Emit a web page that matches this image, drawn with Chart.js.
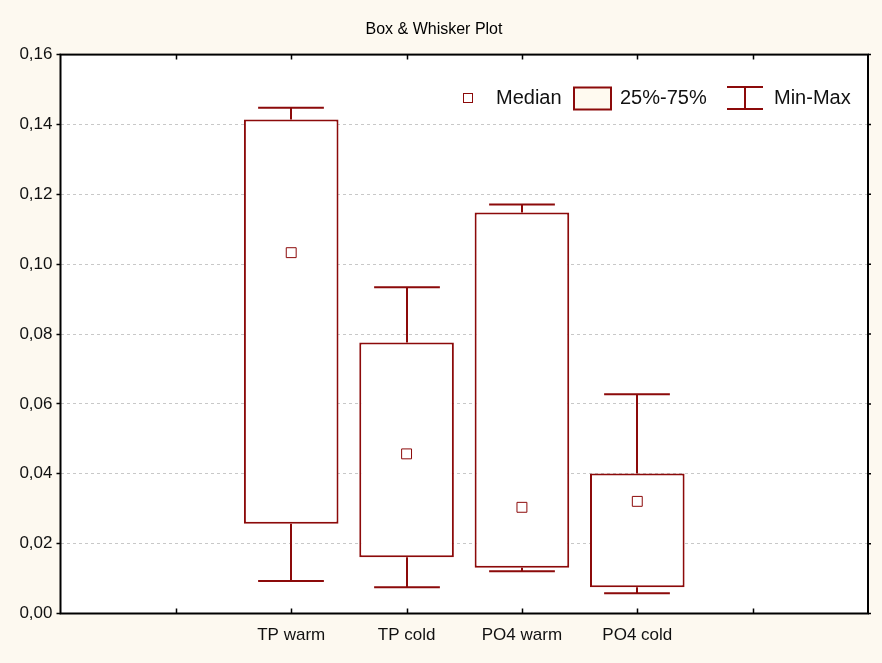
<!DOCTYPE html>
<html>
<head>
<meta charset="utf-8">
<script src="https://cdn.jsdelivr.net/npm/chart.js@4/dist/chart.umd.min.js"></script>
<style>
  html, body { margin: 0; padding: 0; background: #fdf9f0; }
  #wrap { width: 882px; height: 663px; }
</style>
</head>
<body>
<div id="wrap"><canvas id="c" width="882" height="663"></canvas></div>
<script>
// Box & whisker summary per group
const categories   = ['TP warm', 'TP cold', 'PO4 warm', 'PO4 cold'];
const minValues    = [0.0093, 0.0075, 0.0121, 0.0058];
const q1Values     = [0.0257, 0.0161, 0.0131, 0.0075];
const medianValues = [0.1033, 0.0457, 0.0304, 0.0321];
const q3Values     = [0.1414, 0.0776, 0.1148, 0.0401];
const maxValues    = [0.1448, 0.0934, 0.1171, 0.0628];
const yTickValues  = [0, 0.02, 0.04, 0.06, 0.08, 0.10, 0.12, 0.14, 0.16];
const legendLabels = ['Median', '25%-75%', 'Min-Max'];

// empty slots on either side of the groups along the x axis
const LEAD = 2, TRAIL = 2;
const pad = arr => [...Array(LEAD).fill(null), ...arr, ...Array(TRAIL).fill(null)];
const slotLabels = pad(categories).map(v => v === null ? '' : v);

const RED = '#8c0a0a';
const PAGE = '#fdf9f0';
const FONT = "'Liberation Sans', Arial, sans-serif";

const fmt = v => v.toFixed(2).replace('.', ',');

const framePlugin = {
  id: 'frame',
  beforeDraw(chart) {
    const { ctx, chartArea: a } = chart;
    ctx.save();
    ctx.fillStyle = PAGE;
    ctx.fillRect(0, 0, chart.width, chart.height);
    ctx.fillStyle = '#ffffff';
    ctx.fillRect(a.left, a.top, a.right - a.left, a.bottom - a.top);
    ctx.restore();
  },
  beforeDatasetsDraw(chart) {
    const { ctx, chartArea: a, scales: { x, y } } = chart;
    ctx.save();
    ctx.strokeStyle = '#000';
    ctx.lineWidth = 2;
    ctx.strokeRect(a.left, a.top, a.right - a.left, a.bottom - a.top);
    // inward tick marks on top and bottom edges
    ctx.beginPath();
    for (let i = 1; i < slotLabels.length - 1; i++) {
      const px = Math.round(x.getPixelForTick(i)) + 0.5;
      ctx.moveTo(px, a.bottom); ctx.lineTo(px, a.bottom - 5);
      ctx.moveTo(px, a.top); ctx.lineTo(px, a.top + 5);
    }
    // short outward marks on the right edge
    yTickValues.forEach(v => {
      const py = y.getPixelForValue(v);
      ctx.moveTo(a.right, py); ctx.lineTo(a.right + 3, py);
    });
    ctx.lineWidth = 1.5;
    ctx.stroke();
    ctx.restore();
  },
  afterDatasetsDraw(chart) {
    const { ctx, scales: { x, y } } = chart;
    const slot = x.getPixelForValue(1) - x.getPixelForValue(0);
    const half = slot * 0.285;
    ctx.save();
    ctx.strokeStyle = RED;
    ctx.lineWidth = 2;
    categories.forEach((c, i) => {
      const cx = Math.round(x.getPixelForValue(i + LEAD));
      const yMax = y.getPixelForValue(maxValues[i]);
      const yQ3 = y.getPixelForValue(q3Values[i]);
      const yQ1 = y.getPixelForValue(q1Values[i]);
      const yMin = y.getPixelForValue(minValues[i]);
      ctx.beginPath();
      ctx.moveTo(cx, yQ3); ctx.lineTo(cx, yMax);
      ctx.moveTo(cx - half, yMax); ctx.lineTo(cx + half, yMax);
      ctx.moveTo(cx, yQ1); ctx.lineTo(cx, yMin);
      ctx.moveTo(cx - half, yMin); ctx.lineTo(cx + half, yMin);
      ctx.stroke();
    });
    ctx.restore();
  },
  afterDraw(chart) {
    // legend row in the upper right of the plot
    const { ctx } = chart;
    const cy = 98;
    ctx.save();
    ctx.font = '20px ' + FONT;
    ctx.fillStyle = '#111';
    ctx.textBaseline = 'middle';
    ctx.textAlign = 'left';
    // median marker
    ctx.fillStyle = '#fff';
    ctx.fillRect(463.5, cy - 4.5, 9, 9);
    ctx.strokeStyle = RED;
    ctx.lineWidth = 1;
    ctx.strokeRect(463.5, cy - 4.5, 9, 9);
    ctx.fillStyle = '#111';
    ctx.fillText(legendLabels[0], 496, cy);
    // box marker
    ctx.fillStyle = '#fffaf0';
    ctx.fillRect(574, cy - 10.5, 37, 22);
    ctx.lineWidth = 2;
    ctx.strokeRect(574, cy - 10.5, 37, 22);
    ctx.fillStyle = '#111';
    ctx.fillText(legendLabels[1], 620, cy);
    // whisker marker
    ctx.beginPath();
    ctx.moveTo(727, cy - 11); ctx.lineTo(763, cy - 11);
    ctx.moveTo(727, cy + 11); ctx.lineTo(763, cy + 11);
    ctx.moveTo(745, cy - 11); ctx.lineTo(745, cy + 11);
    ctx.stroke();
    ctx.fillText(legendLabels[2], 774, cy);
    ctx.restore();
  }
};

new Chart(document.getElementById('c'), {
  type: 'bar',
  data: {
    labels: slotLabels,
    datasets: [
      {
        type: 'bar',
        label: legendLabels[1],
        data: pad(categories.map((c, i) => [q1Values[i], q3Values[i]])),
        backgroundColor: '#ffffff',
        borderColor: RED,
        borderWidth: 2,
        borderSkipped: false,
        barPercentage: 0.82,
        categoryPercentage: 1,
        order: 2
      },
      {
        type: 'line',
        label: legendLabels[0],
        data: pad(medianValues),
        showLine: false,
        pointStyle: 'rect',
        pointRadius: 7,
        pointBackgroundColor: '#ffffff',
        pointBorderColor: RED,
        pointBorderWidth: 1,
        order: 1
      }
    ]
  },
  options: {
    responsive: false,
    animation: false,
    devicePixelRatio: 1,
    layout: { padding: { left: 0, right: 14, top: 0, bottom: 0 } },
    plugins: {
      legend: { display: false },
      tooltip: { enabled: false },
      title: {
        display: true,
        text: 'Box & Whisker Plot',
        color: '#000',
        font: { family: FONT, size: 16, weight: 'normal', lineHeight: 1.2 },
        padding: { top: 20, bottom: 15.4 }
      }
    },
    scales: {
      x: {
        type: 'category',
        offset: false,
        grid: { display: false, drawTicks: false },
        border: { display: false },
        ticks: {
          color: '#111',
          font: { family: FONT, size: 17 },
          padding: 12,
          autoSkip: false,
          maxRotation: 0
        },
        afterFit: s => { s.height = 49.5; }
      },
      y: {
        min: 0,
        max: 0.16,
        afterBuildTicks: s => { s.ticks = yTickValues.map(v => ({ value: v })); },
        ticks: {
          color: '#111',
          font: { family: FONT, size: 17 },
          padding: 4,
          callback: v => fmt(v)
        },
        grid: {
          color: '#c8c8c8',
          lineWidth: 1,
          tickColor: '#000',
          tickLength: 4,
          tickWidth: 1.5
        },
        border: { display: false, dash: [3, 3] },
        afterFit: s => { s.width = 60.5; }
      }
    }
  },
  plugins: [framePlugin]
});
</script>
</body>
</html>
